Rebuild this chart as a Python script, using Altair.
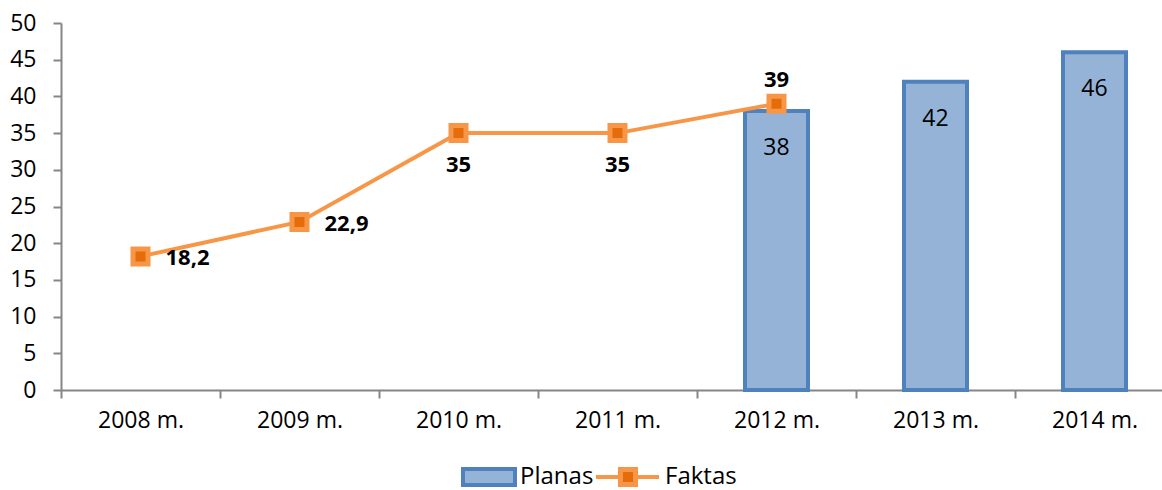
import altair as alt
import pandas as pd

years = ["2008 m.", "2009 m.", "2010 m.", "2011 m.", "2012 m.", "2013 m.", "2014 m."]
plan_values = [None, None, None, None, 38, 42, 46]
fact_values = [18.2, 22.9, 35, 35, 39, None, None]
fact_right = ["2008 m.", "2009 m."]
fact_below = ["2010 m.", "2011 m."]
fact_above = ["2012 m."]

def fmt(v):
    if v is None:
        return None
    return ("%g" % v).replace(".", ",")

df = pd.DataFrame({
    "year": years,
    "plan": plan_values,
    "fact": fact_values,
    "plan_lbl": [fmt(v) for v in plan_values],
    "fact_lbl": [fmt(v) for v in fact_values],
})

FONT = "Open Sans"
FS = 23
BFS = 22
W, H = 1101, 367

x = alt.X("year:N", sort=years, title=None,
          scale=alt.Scale(paddingInner=0, paddingOuter=0, range=[0, 1113]),
          axis=alt.Axis(labelAngle=0, labelFontSize=FS, labelFont=FONT, labelColor="#000000",
                        domainColor="#868686", domainWidth=2, tickColor="#868686", tickWidth=2,
                        tickSize=8, tickBand="extent", labelPadding=11, grid=False))
y = alt.Y("v:Q", title=None,
          scale=alt.Scale(domain=[0, 50], nice=False),
          axis=alt.Axis(values=list(range(0, 55, 5)), labelFontSize=FS, labelFont=FONT,
                        labelColor="#000000", domainColor="#868686", domainWidth=2,
                        tickColor="#868686", tickWidth=2, tickSize=8, labelPadding=17, grid=False))

base = alt.Chart(df)

plan_base = base.transform_filter("datum.plan != null").transform_calculate(v="datum.plan")
bars = plan_base.mark_bar(size=63, color="#95B3D7", stroke="#4F81BD", strokeWidth=4).encode(x=x, y=y)
bar_text = plan_base.mark_text(
    font=FONT, fontSize=FS, color="#000000", dy=37, baseline="middle"
).encode(x=x, y=y, text="plan_lbl:N")

fact_base = base.transform_filter("datum.fact != null").transform_calculate(v="datum.fact")

line = fact_base.mark_line(color="#F79646", strokeWidth=4).encode(x=x, y=y)
pts = fact_base.mark_point(shape="square", size=225, filled=True, fill="#E46C0A", stroke="#F79646",
                           strokeWidth=5, opacity=1).encode(x=x, y=y)

t_right = fact_base.transform_filter(alt.FieldOneOfPredicate(field="year", oneOf=fact_right)).mark_text(
    font=FONT, fontSize=BFS, fontWeight="bold", color="#000000", align="left", dx=25, dy=2, baseline="middle"
).encode(x=x, y=y, text="fact_lbl:N")
t_below = fact_base.transform_filter(alt.FieldOneOfPredicate(field="year", oneOf=fact_below)).mark_text(
    font=FONT, fontSize=BFS, fontWeight="bold", color="#000000", dy=32, baseline="middle"
).encode(x=x, y=y, text="fact_lbl:N")
t_above = fact_base.transform_filter(alt.FieldOneOfPredicate(field="year", oneOf=fact_above)).mark_text(
    font=FONT, fontSize=BFS, fontWeight="bold", color="#000000", dy=-24, baseline="middle"
).encode(x=x, y=y, text="fact_lbl:N")

# manual legend below the plot
leg_df = pd.DataFrame({"a": [0]})
lg = alt.Chart(leg_df)
ly = 477 - 23
leg_rect = lg.mark_rect(color="#95B3D7", stroke="#4F81BD", strokeWidth=4).encode(
    x=alt.value(463 - 61), x2=alt.value(515 - 61), y=alt.value(ly - 8), y2=alt.value(ly + 8))
leg_t1 = lg.mark_text(font=FONT, fontSize=24, align="left", baseline="middle", color="#000000").encode(
    x=alt.value(520 - 61), y=alt.value(ly), text=alt.value("Planas"))
leg_line = lg.mark_rule(color="#F79646", strokeWidth=4).encode(
    x=alt.value(596 - 61), x2=alt.value(659 - 61), y=alt.value(ly))
leg_pt = lg.mark_point(shape="square", size=225, filled=True, fill="#E46C0A", stroke="#F79646",
                       strokeWidth=5, opacity=1).encode(x=alt.value(628 - 61), y=alt.value(ly))
leg_t2 = lg.mark_text(font=FONT, fontSize=24, align="left", baseline="middle", color="#000000").encode(
    x=alt.value(665 - 61), y=alt.value(ly), text=alt.value("Faktas"))

chart = alt.layer(bars, bar_text, line, pts, t_right, t_below, t_above,
                  leg_rect, leg_t1, leg_line, leg_pt, leg_t2).properties(
    width=W, height=H,
    autosize=alt.AutoSizeParams(type="none"),
    padding={"left": 61, "top": 23, "right": 0, "bottom": 100},
    background="#FFFFFF",
).configure_view(stroke=None, clip=False)

chart.save("out.html", embed_options={"renderer": "svg", "actions": False})
